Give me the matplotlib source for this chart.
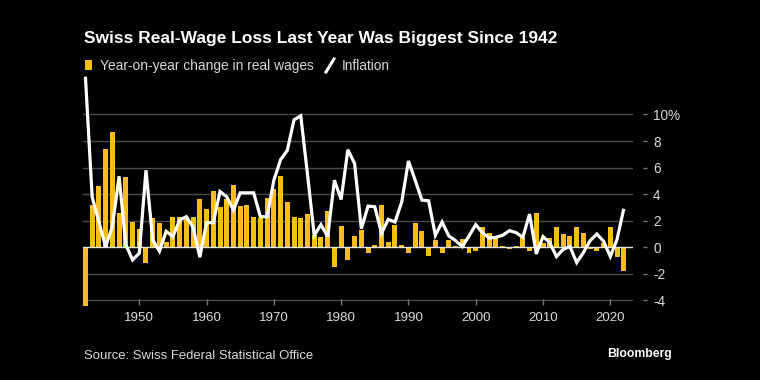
import matplotlib
matplotlib.use("Agg")
import matplotlib.pyplot as plt
from matplotlib.patches import Rectangle
from matplotlib.lines import Line2D

years = list(range(1942, 2023))
real_wages = [
    -4.45, 3.2, 4.6, 7.4, 8.7, 2.6, 5.3, 1.9, 1.4, -1.15,
    2.2, 1.8, 0.4, 2.3, 2.3, 2.3, 2.3, 3.6, 2.9, 4.2,
    3.0, 3.6, 4.7, 3.1, 3.2, 2.3, 2.2, 3.7, 4.4, 5.4,
    3.4, 2.3, 2.2, 2.5, 0.9, 0.8, 2.7, -1.45, 1.6, -0.95,
    0.85, 1.3, -0.4, 0.2, 3.2, 0.4, 1.7, 0.2, -0.45, 1.85,
    1.2, -0.65, 0.55, -0.45, 0.55, 0.1, 0.6, -0.45, -0.25, 1.55,
    1.1, 0.8, 0.1, -0.15, 0.1, 0.8, -0.3, 2.6, 0.3, 0.7,
    1.5, 1.0, 0.85, 1.5, 1.1, -0.1, -0.3, 0.3, 1.5, -0.7,
    -1.8,
]
inflation = [
    12.85, 3.8, 1.9, 0.05, 1.55, 5.35, 0.2, -0.95, -0.45, 5.8,
    0.55, -0.3, 1.2, 0.8, 2.05, 2.3, 1.5, -0.75, 1.85, 1.85,
    4.2, 3.8, 2.8, 4.1, 4.1, 4.1, 2.3, 2.3, 5.05, 6.6,
    7.3, 9.6, 9.9, 5.5, 0.9, 1.7, 0.8, 5.05, 3.6, 7.35,
    6.3, 1.4, 3.1, 3.05, 1.05, 2.1, 1.9, 3.4, 6.5, 5.05,
    3.55, 3.5, 0.9, 1.9, 0.85, 0.5, 0.05, 0.85, 1.7, 1.1,
    0.7, 0.75, 0.9, 1.25, 1.1, 0.75, 2.5, -0.5, 0.8, 0.35,
    -0.7, -0.15, 0.05, -1.15, -0.4, 0.5, 1.0, 0.45, -0.7, 0.6,
    2.9,
]
y_ticks = [-4, -2, 0, 2, 4, 6, 8, 10]
y_labels = ["-4", "-2", "0", "2", "4", "6", "8", "10%"]
x_ticks = [1950, 1960, 1970, 1980, 1990, 2000, 2010, 2020]

title = "Swiss Real-Wage Loss Last Year Was Biggest Since 1942"
legend_bar = "Year-on-year change in real wages"
legend_line = "Inflation"
source = "Source: Swiss Federal Statistical Office"
brand = "Bloomberg"

YELLOW = "#F7BE16"
BG = "#000000"
GRID = "#4a4a4a"
TXT = "#d9d9d9"

W, H = 760, 380
plt.rcParams['font.family'] = ['Liberation Sans', 'DejaVu Sans']
fig = plt.figure(figsize=(W / 100, H / 100), dpi=100, facecolor=BG)

def fx(px):
    return px / W

def fy(py):
    return 1 - py / H

# axes: x 83..633 px, y 76..307 px
ax = fig.add_axes([fx(83), fy(307), (633 - 83) / W, (307 - 76) / H], facecolor=BG)
ax.set_xlim(1941.64, 2023.37)
ax.set_ylim(-4.5, 12.9)

for t in y_ticks:
    if t == 0:
        continue
    ax.axhline(t, color=GRID, lw=1.0, zorder=1)

ax.bar(years, real_wages, width=0.74, color=YELLOW, zorder=2, clip_on=False)
ax.axhline(0, color="#e6e6e6", lw=1.0, zorder=3)
ax.plot(years, inflation, color="white", lw=2.3, zorder=4, clip_on=False,
        solid_joinstyle="miter", solid_capstyle="butt")

for s in ["top", "left", "right", "bottom"]:
    ax.spines[s].set_visible(False)
ax.spines["right"].set_position(("outward", 7))
ax.spines["bottom"].set_position(("outward", -6))

ax.yaxis.tick_right()
ax.set_yticks(y_ticks)
ax.set_yticklabels(y_labels)
ax.tick_params(axis="y", direction="out", length=3, width=1, color="#777777",
               pad=4.5, labelsize=9.8, labelcolor=TXT)
ax.set_xticks(x_ticks)
ax.set_xticklabels([str(x) for x in x_ticks])
ax.tick_params(axis="x", direction="out", length=4, width=1, color="#777777",
               pad=5.5, labelsize=9.6, labelcolor=TXT)
for lab in ax.get_yticklabels():
    lab.set_horizontalalignment("left")

renderer = fig.canvas.get_renderer()

def fit_text(x, y, s, target_w, size, **kw):
    t = fig.text(fx(x), fy(y), s, fontsize=size, va="baseline", ha="left", **kw)
    bb = t.get_window_extent(renderer)
    t.set_fontsize(size * target_w / bb.width)
    return t

fit_text(84, 43, title, 473, 13, color="white", fontweight="bold")
fig.patches.append(Rectangle((fx(85), fy(70)), 7 / W, 10 / H, transform=fig.transFigure,
                             facecolor=YELLOW, edgecolor="none"))
fit_text(100, 70, legend_bar, 213, 10, color=TXT)
fig.lines.append(Line2D([fx(326), fx(334)], [fy(72), fy(59)], transform=fig.transFigure,
                        color="white", lw=2.2))
fit_text(342, 70, legend_line, 48, 10, color=TXT)
fit_text(84, 359, source, 229, 10, color=TXT)
fit_text(607, 357, brand, 65, 10, color="white", fontweight="bold")

fig.savefig("out.png", dpi=100, facecolor=BG)
